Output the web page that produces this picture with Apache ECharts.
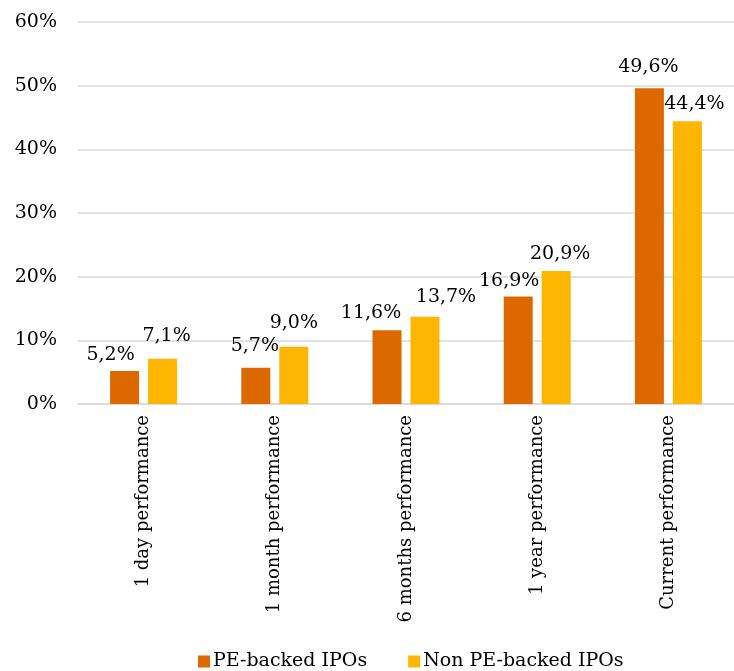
<!DOCTYPE html>
<html>
<head>
<meta charset="utf-8">
<title>IPO performance</title>
<script src="https://cdn.jsdelivr.net/npm/echarts@6/dist/echarts.min.js"></script>
<style>
  html, body { margin: 0; padding: 0; background: #ffffff; }
  #chart { width: 734px; height: 671px; }
</style>
</head>
<body>
<div id="chart"></div>
<script>
// Average returns by holding period
const categories = ['1 day performance', '1 month performance', '6 months performance', '1 year performance', 'Current performance'];
const peBacked = [5.2, 5.7, 11.6, 16.9, 49.6];
const nonPeBacked = [7.1, 9.0, 13.7, 20.9, 44.4];
const seriesNames = ['PE-backed IPOs', 'Non PE-backed IPOs'];
const yTicks = [0, 10, 20, 30, 40, 50, 60];

// Hand-placed nudges [dx, dy] so neighbouring value labels don't collide
const peLabelNudge = [[-14, -1], [-1, -7], [-16, -3], [-9, -1], [-1, -7]];
const nonPeLabelNudge = [[4, -8], [0, -9], [21, -5], [4, -2], [7, -3]];

const FONT = '"DejaVu Serif", Georgia, serif';
const fmt = v => v.toFixed(1).replace('.', ',') + '%';

const chart = echarts.init(document.getElementById('chart'));

function barSeries(name, values, nudges, color) {
  return {
    name: name,
    type: 'bar',
    data: values.map((v, i) => ({ value: v, label: { offset: nudges[i] } })),
    barWidth: 29,
    barGap: '31%',
    itemStyle: { color: color },
    label: {
      show: true,
      position: 'top',
      distance: 5,
      color: '#000',
      fontFamily: FONT,
      fontSize: 19,
      formatter: p => fmt(p.value)
    }
  };
}

chart.setOption({
  animation: false,
  textStyle: { fontFamily: FONT },
  grid: { left: 78, right: -4, top: 22, bottom: 267 },
  legend: {
    data: seriesNames,
    left: 198,
    top: 652,
    padding: 0,
    itemWidth: 12,
    itemHeight: 12,
    itemGap: 41,
    icon: 'rect',
    textStyle: { fontFamily: FONT, fontSize: 19, color: '#000', padding: [0, 0, 0, -2] }
  },
  xAxis: {
    type: 'category',
    data: categories,
    axisLine: { lineStyle: { color: '#d9d9d9', width: 1.5 } },
    axisTick: { show: false },
    axisLabel: {
      rotate: 90,
      margin: 11,
      interval: 0,
      color: '#000',
      fontFamily: FONT,
      fontSize: 18
    }
  },
  yAxis: {
    type: 'value',
    min: yTicks[0],
    max: yTicks[yTicks.length - 1],
    interval: 10,
    axisLine: { show: false },
    axisTick: { show: false },
    splitLine: { lineStyle: { color: '#d9d9d9', width: 1.5 } },
    axisLabel: {
      margin: 21,
      color: '#000',
      fontFamily: FONT,
      fontSize: 19,
      formatter: v => v + '%'
    }
  },
  series: [
    barSeries(seriesNames[0], peBacked, peLabelNudge, '#DC6900'),
    barSeries(seriesNames[1], nonPeBacked, nonPeLabelNudge, '#FFB600')
  ]
});
</script>
</body>
</html>
